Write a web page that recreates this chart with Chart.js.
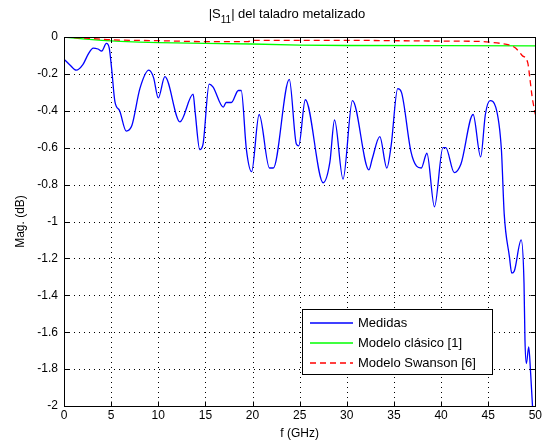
<!DOCTYPE html>
<html>
<head>
<meta charset="utf-8">
<script src="https://cdn.jsdelivr.net/npm/chart.js@4.4.1/dist/chart.umd.min.js"></script>
<style>
  html, body { margin: 0; padding: 0; background: #fff; }
  #wrap { width: 544px; height: 448px; }
</style>
</head>
<body>
<div id="wrap"><canvas id="chart" width="544" height="448"></canvas></div>
<script>
// Medidas (measured |S11|, dB)
const measFreq = [0, 0.6, 1.3, 2.0, 2.6, 3.1, 3.6, 4.0, 4.5, 4.8, 5.05, 5.4, 5.9, 6.6, 7.2, 8.05, 9.0, 9.5, 10.0, 10.7,
  12.3, 13.7, 13.9, 14.4, 14.75, 15.4, 15.8, 16.9, 17.2, 17.75, 18.5, 18.8, 19.35, 19.9, 20.7, 21.8, 22.2, 23.9,
  24.65, 24.9, 25.6, 27.5, 28.2, 28.7, 29.6, 30.6, 32.35, 32.7, 33.5, 34.25, 34.7, 35.4, 35.8, 36.8, 37.4, 37.9,
  38.5, 39.3, 40.2, 40.5, 41.4, 42.1, 43.4, 44.2, 44.7, 45.2, 45.8, 46.4, 46.7, 47.25, 47.5, 47.76, 48.5, 48.8,
  48.9, 49.05, 49.3, 49.5, 49.7, 50];
const measMag = [-0.12, -0.15, -0.18, -0.15, -0.09, -0.06, -0.065, -0.076, -0.035, -0.06, -0.17, -0.35, -0.40, -0.51, -0.48, -0.28, -0.18, -0.22, -0.33, -0.215,
  -0.46, -0.31, -0.40, -0.61, -0.58, -0.255, -0.27, -0.38, -0.355, -0.355, -0.29, -0.29, -0.61, -0.73, -0.42, -0.71, -0.71, -0.23,
  -0.58, -0.59, -0.34, -0.79, -0.68, -0.45, -0.77, -0.345, -0.72, -0.66, -0.54, -0.71, -0.59, -0.28, -0.30, -0.62, -0.70, -0.71,
  -0.63, -0.92, -0.60, -0.60, -0.735, -0.69, -0.42, -0.65, -0.42, -0.345, -0.38, -0.61, -0.96, -1.19, -1.28, -1.27, -1.10, -1.335,
  -1.64, -1.77, -1.68, -1.82, -2.0, -2.2];

// Modelo clásico [1]
const classicFreq = [0, 2, 4, 6, 8, 10, 15, 20, 25, 30, 40, 50];
const classicMag = [0, -0.01, -0.018, -0.024, -0.028, -0.031, -0.035, -0.038, -0.044, -0.046, -0.047, -0.048];

// Modelo Swanson [6]
const swansonFreq = [0, 3, 5, 10, 15, 19.5, 20, 25, 30, 35, 40, 44, 45.5, 46.5, 47.2, 47.9, 48.6, 49.2, 49.4, 49.65, 49.85, 50];
const swansonMag = [0, -0.008, -0.015, -0.02, -0.025, -0.025, -0.018, -0.018, -0.018, -0.02, -0.022, -0.024, -0.03, -0.036,
  -0.043, -0.06, -0.1, -0.14, -0.215, -0.32, -0.38, -0.42];

const xTicks = [0, 5, 10, 15, 20, 25, 30, 35, 40, 45, 50];
const yTicks = [0, -0.2, -0.4, -0.6, -0.8, -1, -1.2, -1.4, -1.6, -1.8, -2];
const seriesNames = ['Medidas', 'Modelo clásico [1]', 'Modelo Swanson [6]'];

const FONT = '"Liberation Sans", Arial, sans-serif';
const lineColors = ['#0000ff', '#00ff00', '#ff0000'];
const lineDashes = [[], [], [6, 4]];

function toPoints(xs, ys) {
  return xs.map((x, i) => ({ x: x, y: ys[i] }));
}

// dotted grid under the curves, box and inner ticks above them
const framePlugin = {
  id: 'frame',
  beforeDatasetsDraw(chart) {
    const { ctx, chartArea: a, scales: { x, y } } = chart;
    ctx.save();
    ctx.strokeStyle = '#000';
    ctx.lineWidth = 1;
    ctx.setLineDash([1, 4]);
    xTicks.forEach(t => {
      const px = Math.round(x.getPixelForValue(t)) + 0.5;
      if (px <= a.left + 1 || px >= a.right - 1) return;
      ctx.beginPath();
      ctx.moveTo(px, a.top);
      ctx.lineTo(px, a.bottom);
      ctx.stroke();
    });
    yTicks.forEach(t => {
      const py = Math.round(y.getPixelForValue(t)) + 0.5;
      if (py <= a.top + 1 || py >= a.bottom - 1) return;
      ctx.beginPath();
      ctx.moveTo(a.left, py);
      ctx.lineTo(a.right, py);
      ctx.stroke();
    });
    ctx.restore();
  },
  afterDatasetsDraw(chart) {
    const { ctx, chartArea: a, scales: { x, y } } = chart;
    const l = Math.round(a.left) + 0.5, r = Math.round(a.right) + 0.5;
    const t = Math.round(a.top) + 0.5, b = Math.round(a.bottom) + 0.5;
    ctx.save();
    ctx.strokeStyle = '#000';
    ctx.lineWidth = 1;
    ctx.strokeRect(l, t, r - l, b - t);
    ctx.beginPath();
    xTicks.forEach(v => {
      const px = Math.round(x.getPixelForValue(v)) + 0.5;
      ctx.moveTo(px, b); ctx.lineTo(px, b - 5);
      ctx.moveTo(px, t); ctx.lineTo(px, t + 5);
    });
    yTicks.forEach(v => {
      const py = Math.round(y.getPixelForValue(v)) + 0.5;
      ctx.moveTo(l, py); ctx.lineTo(l + 5, py);
      ctx.moveTo(r, py); ctx.lineTo(r - 5, py);
    });
    ctx.stroke();
    ctx.restore();
  }
};

// title with subscript, axis titles and the boxed legend
const textPlugin = {
  id: 'texts',
  afterDraw(chart) {
    const { ctx, chartArea: a } = chart;
    ctx.save();
    ctx.fillStyle = '#000';
    ctx.textBaseline = 'alphabetic';

    // title |S11| del taladro metalizado
    const big = '13px ' + FONT, small = '10px ' + FONT;
    const parts = [['|S', big, 0], ['11', small, 5], ['| del taladro metalizado', big, 0]];
    let w = 0;
    parts.forEach(p => { ctx.font = p[1]; w += ctx.measureText(p[0]).width; });
    let cx = 287 - w / 2;
    parts.forEach(p => {
      ctx.font = p[1];
      ctx.fillText(p[0], cx, 18 + p[2]);
      cx += ctx.measureText(p[0]).width;
    });

    // axis titles
    ctx.font = '12px ' + FONT;
    ctx.textAlign = 'center';
    ctx.textBaseline = 'middle';
    ctx.fillText('f (GHz)', (a.left + a.right) / 2, 434);
    ctx.translate(21, (a.top + a.bottom) / 2);
    ctx.rotate(-Math.PI / 2);
    ctx.fillText('Mag. (dB)', 0, 0);
    ctx.setTransform(1, 0, 0, 1, 0, 0);

    // legend
    const bx = 302.5, by = 309.5, bw = 190, bh = 65;
    ctx.fillStyle = '#fff';
    ctx.fillRect(bx, by, bw, bh);
    ctx.strokeStyle = '#000';
    ctx.lineWidth = 1;
    ctx.strokeRect(bx, by, bw, bh);
    ctx.font = '13px ' + FONT;
    ctx.textAlign = 'left';
    seriesNames.forEach((name, i) => {
      const ry = Math.round(by + 13 + i * 20);
      ctx.save();
      ctx.strokeStyle = lineColors[i];
      ctx.lineWidth = 1.6;
      ctx.setLineDash(lineDashes[i]);
      ctx.beginPath();
      ctx.moveTo(310, ry);
      ctx.lineTo(353, ry);
      ctx.stroke();
      ctx.restore();
      ctx.fillStyle = '#000';
      ctx.fillText(name, 358, ry);
    });
    ctx.restore();
  }
};

new Chart(document.getElementById('chart'), {
  type: 'line',
  data: {
    datasets: [{
      label: seriesNames[0],
      data: toPoints(measFreq, measMag),
      borderColor: lineColors[0],
      borderWidth: 1.3,
      pointRadius: 0,
      cubicInterpolationMode: 'monotone',
      order: 3
    }, {
      label: seriesNames[1],
      data: toPoints(classicFreq, classicMag),
      borderColor: lineColors[1],
      borderWidth: 1.3,
      pointRadius: 0,
      order: 2
    }, {
      label: seriesNames[2],
      data: toPoints(swansonFreq, swansonMag),
      borderColor: lineColors[2],
      borderWidth: 1.3,
      borderDash: lineDashes[2],
      pointRadius: 0,
      cubicInterpolationMode: 'monotone',
      order: 1
    }]
  },
  options: {
    responsive: false,
    animation: false,
    layout: { padding: { top: 37, right: 8, left: 0, bottom: 0 } },
    plugins: {
      legend: { display: false },
      title: { display: false },
      tooltip: { enabled: false }
    },
    scales: {
      x: {
        type: 'linear',
        min: 0,
        max: 50,
        afterBuildTicks: s => { s.ticks = xTicks.map(v => ({ value: v })); },
        afterFit: s => { s.height = 42; },
        grid: { display: false, drawTicks: false },
        border: { display: false },
        ticks: { color: '#000', padding: 2, maxRotation: 0, autoSkip: false, font: { family: FONT, size: 12 } }
      },
      y: {
        type: 'linear',
        min: -2,
        max: 0,
        afterBuildTicks: s => { s.ticks = yTicks.map(v => ({ value: v })); },
        afterFit: s => { s.width = 64; },
        grid: { display: false, drawTicks: false },
        border: { display: false },
        ticks: { color: '#000', padding: 6, autoSkip: false, font: { family: FONT, size: 12 },
          callback: v => String(Math.round(v * 10) / 10) }
      }
    }
  },
  plugins: [framePlugin, textPlugin]
});
</script>
</body>
</html>
